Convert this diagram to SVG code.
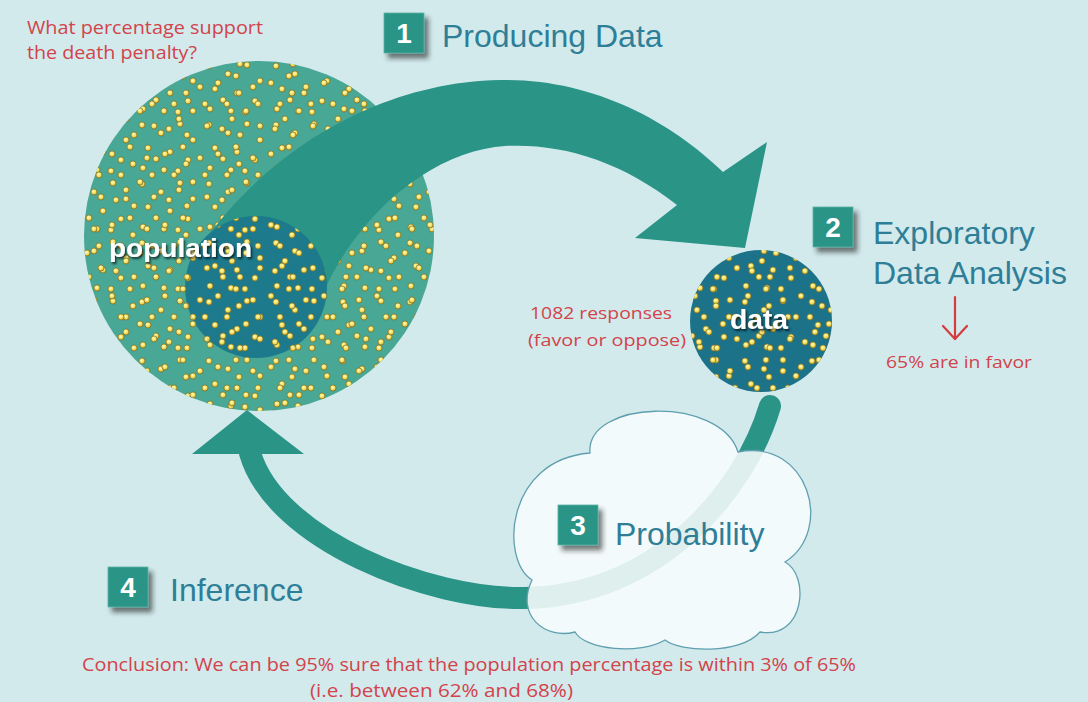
<svg xmlns="http://www.w3.org/2000/svg" width="1088" height="702" viewBox="0 0 1088 702">
<defs>
<style>
.title{font-family:"Liberation Sans",Arial,sans-serif;font-size:32px;fill:#2f7e97}
.red{font-family:"Open Sans","Liberation Sans",sans-serif;fill:#d3434b}
.box{fill:#2a9487;stroke:#5cb2a6;stroke-width:0.8;filter:url(#boxShadow)}
.num{font-family:"Liberation Sans",Arial,sans-serif;font-weight:bold;font-size:28px;fill:#ffffff;text-anchor:middle}
.lbl{font-family:"Liberation Sans",Arial,sans-serif;font-weight:bold;fill:#ffffff;filter:url(#txtShadow)}
.dots{fill:url(#dotg);stroke:#7a6e2c;stroke-width:0.7}
</style>
<radialGradient id="dotg" cx="0.45" cy="0.4" r="0.6">
<stop offset="0" stop-color="#fffbc8"/>
<stop offset="0.55" stop-color="#f4df5c"/>
<stop offset="1" stop-color="#b9a332"/>
</radialGradient>
<pattern id="dotsA" patternUnits="userSpaceOnUse" width="67" height="59">
<g class="dots">
<circle cx="8" cy="7" r="3.1"/><circle cx="27" cy="15" r="3.1"/><circle cx="46" cy="6" r="3.1"/>
<circle cx="59" cy="22" r="3.1"/><circle cx="14" cy="30" r="3.1"/><circle cx="36" cy="34" r="3.1"/>
<circle cx="54" cy="42" r="3.1"/><circle cx="9" cy="50" r="3.1"/><circle cx="30" cy="52" r="3.1"/>
<circle cx="22" cy="41" r="3.1"/><circle cx="44" cy="53" r="3.1"/>
</g>
</pattern>
<pattern id="dotsB" patternUnits="userSpaceOnUse" width="53" height="71">
<g class="dots">
<circle cx="6" cy="12" r="3.1"/><circle cx="24" cy="5" r="3.1"/><circle cx="41" cy="16" r="3.1"/>
<circle cx="15" cy="33" r="3.1"/><circle cx="34" cy="40" r="3.1"/><circle cx="48" cy="55" r="3.1"/>
<circle cx="10" cy="58" r="3.1"/><circle cx="28" cy="64" r="3.1"/><circle cx="27" cy="22" r="3.1"/>
<circle cx="46" cy="33" r="3.1"/><circle cx="20" cy="48" r="3.1"/>
</g>
</pattern>
<filter id="boxShadow" x="-30%" y="-30%" width="170%" height="170%">
<feDropShadow dx="4" dy="5" stdDeviation="2.5" flood-color="#222222" flood-opacity="0.6"/>
</filter>
<filter id="txtShadow" x="-10%" y="-30%" width="130%" height="170%">
<feDropShadow dx="1.5" dy="2" stdDeviation="1.2" flood-color="#000000" flood-opacity="0.7"/>
</filter>
</defs>

<rect x="0" y="0" width="1088" height="702" fill="#d2eaec"/>

<g id="question">
<text class="red" x="27" y="34" font-size="19" textLength="236" lengthAdjust="spacingAndGlyphs">What percentage support</text>
<text class="red" x="27" y="59" font-size="19" textLength="170" lengthAdjust="spacingAndGlyphs">the death penalty?</text>
</g>

<g id="population">
<circle cx="259" cy="236" r="175" fill="#48a795"/>
<circle cx="259" cy="236" r="175" fill="url(#dotsA)"/>
<circle cx="259" cy="236" r="175" fill="url(#dotsB)"/>
</g>

<g id="connectors">
<path id="produce-arrow" d="M 205,240 C 270,150 380,82 500,80 C 590,78 670,120 723,172 L 767,142 L 745,248 L 635,238 L 677,205 C 620,160 560,143 505,146 C 440,150 360,205 320,300 Z" fill="#2a9487"/>
<g id="inference-arrow">
<path d="M 770,406 C 745,490 660,595 525,598 C 430,600 275,540 250,453" fill="none" stroke="#2a9487" stroke-width="22" stroke-linecap="round"/>
<polygon points="247,410 192,454 304,454" fill="#2a9487"/>
</g>
</g>

<g id="sample">
<circle cx="256" cy="287" r="71" fill="#1c7a8c"/>
<circle cx="256" cy="287" r="71" fill="url(#dotsA)"/>
<circle cx="256" cy="287" r="71" fill="url(#dotsB)"/>
<text class="lbl" x="109" y="257" font-size="26" textLength="143" lengthAdjust="spacingAndGlyphs">population</text>
</g>

<g id="data">
<circle cx="761" cy="321" r="71" fill="#1c7289"/>
<circle cx="761" cy="321" r="71" fill="url(#dotsA)"/>
<circle cx="761" cy="321" r="71" fill="url(#dotsB)"/>
<text class="lbl" x="730" y="329" font-size="27" textLength="58" lengthAdjust="spacingAndGlyphs">data</text>
<text class="red" x="530" y="319" font-size="17" textLength="142" lengthAdjust="spacingAndGlyphs">1082 responses</text>
<text class="red" x="528" y="346" font-size="17" textLength="158" lengthAdjust="spacingAndGlyphs">(favor or oppose)</text>
</g>

<g id="cloud">
<path d="M 590,453 C 585,400 720,395 738,452 C 808,438 835,530 785,562 C 810,575 805,640 760,632 C 740,655 680,652 665,640 C 640,655 585,650 575,632 C 545,640 515,615 532,580 C 500,560 505,460 590,453 Z" fill="#f7fcfd" fill-opacity="0.88" stroke="#5f9fb0" stroke-width="1.3"/>
</g>

<g id="step1">
<rect class="box" x="384" y="13" width="40" height="40"/>
<text class="num" x="404" y="43">1</text>
<text class="title" x="442" y="47">Producing Data</text>
</g>

<g id="step2">
<rect class="box" x="813" y="207" width="40" height="40"/>
<text class="num" x="833" y="237">2</text>
<text class="title" x="873" y="244">Exploratory</text>
<text class="title" x="873" y="284">Data Analysis</text>
<g id="eda-arrow" fill="none" stroke="#d43b3f" stroke-width="2.2" stroke-linecap="round" stroke-linejoin="round">
<line x1="955" y1="297" x2="955" y2="339"/>
<polyline points="943,326 955,339 967,326"/>
</g>
<text class="red" x="886" y="368" font-size="17" textLength="146" lengthAdjust="spacingAndGlyphs">65% are in favor</text>
</g>

<g id="step3">
<rect class="box" x="558" y="505" width="40" height="40"/>
<text class="num" x="578" y="535">3</text>
<text class="title" x="615" y="545">Probability</text>
</g>

<g id="step4">
<rect class="box" x="108" y="567" width="40" height="40"/>
<text class="num" x="128" y="597">4</text>
<text class="title" x="170" y="601">Inference</text>
</g>

<g id="conclusion">
<text class="red" x="82" y="671" font-size="18" textLength="774" lengthAdjust="spacingAndGlyphs">Conclusion: We can be 95% sure that the population percentage is within 3% of 65%</text>
<text class="red" x="310" y="697" font-size="18" textLength="263" lengthAdjust="spacingAndGlyphs">(i.e. between 62% and 68%)</text>
</g>
</svg>
